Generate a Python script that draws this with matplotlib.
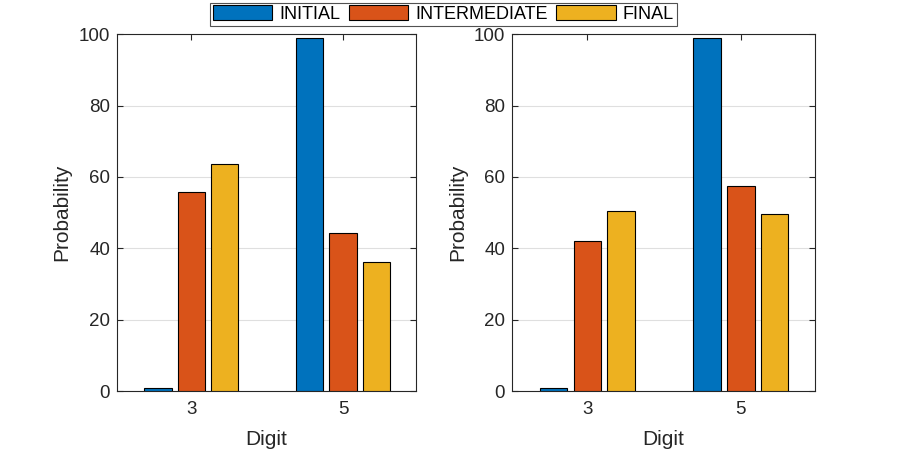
import matplotlib
matplotlib.use("Agg")
import matplotlib.pyplot as plt
import numpy as np

plt.rcParams['font.family'] = ['Liberation Sans', 'DejaVu Sans']

digits = [3, 5]
series_names = ["INITIAL", "INTERMEDIATE", "FINAL"]
colors = ["#0072BD", "#D95319", "#EDB120"]

left_initial = [0.8, 98.9]
left_intermediate = [55.7, 44.2]
left_final = [63.5, 36.1]

right_initial = [0.8, 98.9]
right_intermediate = [42.0, 57.5]
right_final = [50.4, 49.6]

yticks = [0, 20, 40, 60, 80, 100]

fig = plt.figure(figsize=(9, 4.5), dpi=100)
ax1 = fig.add_axes([0.130, 0.131, 0.332, 0.793])
ax2 = fig.add_axes([0.569, 0.131, 0.336, 0.793])

dark = '#262626'
width = 0.36
offsets = [-0.44, 0.0, 0.44]

def draw(ax, data):
    x = np.array(digits, dtype=float)
    handles = []
    for vals, off, c, name in zip(data, offsets, colors, series_names):
        h = ax.bar(x + off, vals, width=width, color=c, edgecolor='black',
                   linewidth=0.8, label=name, zorder=3)
        handles.append(h)
    ax.set_xlim(2.02, 5.96)
    ax.set_ylim(0, 100)
    ax.set_xticks(digits)
    ax.set_xticklabels([str(d) for d in digits])
    ax.set_yticks(yticks)
    ax.grid(axis='y', color='#dfdfdf', linewidth=0.8, zorder=0)
    ax.tick_params(direction='in', length=4, width=0.8, colors=dark,
                   labelsize=13.5, top=True, right=True, labelcolor=dark)
    ax.tick_params(axis='x', pad=7)
    ax.tick_params(axis='y', pad=5)
    for s in ax.spines.values():
        s.set_color(dark)
        s.set_linewidth(0.8)
    ax.set_xlabel("Digit", fontsize=15, color=dark, labelpad=9)
    ax.set_ylabel("Probability", fontsize=15, color=dark, labelpad=5)
    return handles

handles = draw(ax1, [left_initial, left_intermediate, left_final])
draw(ax2, [right_initial, right_intermediate, right_final])

leg = fig.legend(handles=handles, labels=series_names, loc='upper center',
                 bbox_to_anchor=(0.4925, 1.0), ncol=3, fontsize=13,
                 frameon=True, fancybox=False, edgecolor=dark,
                 handlelength=3.3, handleheight=0.85, columnspacing=0.45,
                 handletextpad=0.4, borderpad=0.15, borderaxespad=0.15)
leg.get_frame().set_linewidth(0.8)
for t in leg.get_texts():
    t.set_color('black')

fig.savefig("out.png", dpi=100)
